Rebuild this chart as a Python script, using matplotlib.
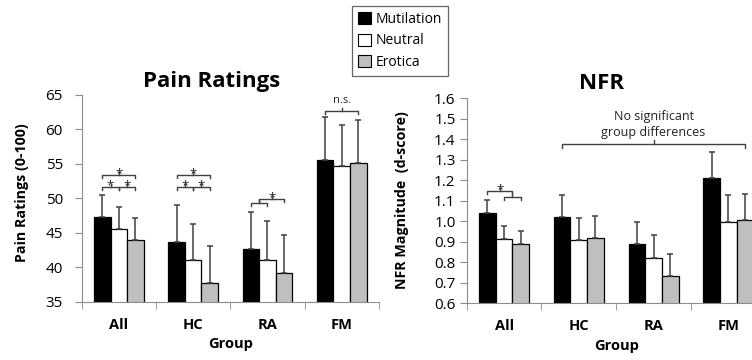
import numpy as np
import matplotlib.pyplot as plt
from matplotlib.patches import Patch
from matplotlib.ticker import FormatStrFormatter, FixedLocator

plt.rcParams['font.family'] = ['Open Sans', 'DejaVu Sans']

groups = ['All', 'HC', 'RA', 'FM']
conditions = ['Mutilation', 'Neutral', 'Erotica']
bar_colors = ['black', 'white', '#bfbfbf']

# pain ratings (0-100)
pain_mut = [47.3, 43.6, 42.6, 55.5]
pain_neu = [45.5, 41.0, 41.1, 54.6]
pain_ero = [44.0, 37.7, 39.1, 55.1]
pain_mut_err = [3.2, 5.4, 5.4, 6.2]
pain_neu_err = [3.2, 5.3, 5.6, 6.0]
pain_ero_err = [3.2, 5.4, 5.5, 6.2]

# NFR magnitude (d-score)
nfr_mut = [1.04, 1.02, 0.89, 1.21]
nfr_neu = [0.912, 0.91, 0.823, 0.998]
nfr_ero = [0.887, 0.919, 0.733, 1.005]
nfr_mut_err = [0.065, 0.106, 0.107, 0.128]
nfr_neu_err = [0.067, 0.106, 0.111, 0.128]
nfr_ero_err = [0.065, 0.105, 0.109, 0.127]

# significance brackets: (group, bar from, bar to, level, label)
pain_sig = [(0, 0, 1, 51.6, '*'), (0, 1, 2, 51.6, '*'), (0, 0, 2, 53.4, '*'),
            (1, 0, 1, 51.6, '*'), (1, 1, 2, 51.6, '*'), (1, 0, 2, 53.4, '*'),
            (2, 0, 1, 49.3, ''), (2, 0.5, 2, 49.9, '*'),
            (3, 0, 2, 62.7, 'n.s.')]
nfr_sig = [(0, 1, 2, 1.121, ''), (0, 0, 1.5, 1.148, '*')]

W = 0.223
LC = '#404040'
AX_C = '#8c8c8c'


def barx(g, k):
    return g + (k - 1) * W


def bracket(ax, x1, x2, y, tip, label=''):
    ax.plot([x1, x1, x2, x2], [y - tip, y, y, y - tip], color=LC, lw=1, zorder=4)
    xm = (x1 + x2) / 2
    ax.plot([xm, xm], [y, y + tip], color=LC, lw=1, zorder=4)
    if label == '*':
        ax.text(xm, y + tip * 0.3, label, ha='center', va='center', fontsize=9.5, color='#222222')
    elif label:
        ax.text(xm, y + tip * 1.5, label, ha='center', va='bottom', fontsize=8, color='#222222')


def draw_panel(ax, means, errs, ylim, step):
    x = np.arange(len(groups))
    for k, (m, e) in enumerate(zip(means, errs)):
        ax.bar(x + (k - 1) * W, m, W, bottom=0, color=bar_colors[k], edgecolor='black',
               lw=0.9, zorder=2)
        ax.errorbar(x + (k - 1) * W, m, yerr=[np.zeros(len(e)), e], fmt='none',
                    ecolor=LC, elinewidth=1.1, capsize=2.4, capthick=1.1, zorder=3)
    ax.set_xlim(-0.5, len(groups) - 0.5)
    ax.set_ylim(*ylim)
    ax.set_yticks(np.arange(ylim[0], ylim[1] + step / 2, step))
    ax.set_xticks(x)
    ax.set_xticklabels(groups, fontsize=10.5, fontweight='bold')
    ax.xaxis.set_minor_locator(FixedLocator(np.arange(-0.5, len(groups), 1.0)))
    ax.tick_params(axis='x', which='major', length=0, pad=12)
    ax.tick_params(axis='x', which='minor', length=5, color=AX_C, direction='out')
    ax.tick_params(axis='y', length=5, color=AX_C, labelsize=11)
    for s in ['top', 'right']:
        ax.spines[s].set_visible(False)
    for s in ['left', 'bottom']:
        ax.spines[s].set_color(AX_C)
    ax.set_xlabel('Group', fontsize=10.5, fontweight='bold')


fig = plt.figure(figsize=(7.52, 3.6), dpi=100)

ax1 = fig.add_axes([0.1086, 0.1619, 0.3953, 0.575])
draw_panel(ax1, [pain_mut, pain_neu, pain_ero], [pain_mut_err, pain_neu_err, pain_ero_err], (35, 65), 5)
ax1.tick_params(axis='y', pad=8.5)
ax1.set_ylabel('Pain Ratings (0-100)', fontsize=10.3, fontweight='bold')
ax1.yaxis.set_label_coords(-0.176, 0.527)
ax1.xaxis.set_label_coords(0.5, -0.171)
tip1 = 0.0145 * 30
for g, a, b, y, lab in pain_sig:
    bracket(ax1, barx(g, a), barx(g, b), y, tip1, lab)

ax2 = fig.add_axes([0.6206, 0.1575, 0.3976, 0.5694])
draw_panel(ax2, [nfr_mut, nfr_neu, nfr_ero], [nfr_mut_err, nfr_neu_err, nfr_ero_err], (0.6, 1.6), 0.1)
ax2.yaxis.set_major_formatter(FormatStrFormatter('%.1f'))
ax2.tick_params(axis='y', pad=3)
ax2.tick_params(axis='x', which='major', pad=11.5)
ax2.set_ylabel('NFR Magnitude  (d-score)', fontsize=10.3, fontweight='bold')
ax2.yaxis.set_label_coords(-0.194, 0.504)
ax2.xaxis.set_label_coords(0.5, -0.174)
tip2 = 0.0165 * 1.0
for g, a, b, y, lab in nfr_sig:
    bracket(ax2, barx(g, a), barx(g, b), y, tip2, lab)
bracket(ax2, barx(1, 0), barx(3, 2), 1.379, tip2 * 1.2)
ax2.text((barx(1, 0) + barx(3, 2)) / 2, 1.379 + tip2 * 1.25, 'No significant\ngroup differences',
         ha='center', va='bottom', fontsize=9, linespacing=1.3, color='#222222')

fig.text(212 / 752, 1 - 82 / 360, 'Pain Ratings', ha='center', va='center',
         fontsize=16, fontweight='bold')
fig.text(601.7 / 752, 1 - 83.3 / 360, 'NFR', ha='center', va='center',
         fontsize=16, fontweight='bold')

handles = [Patch(facecolor=c, edgecolor='black', lw=0.8) for c in bar_colors]
leg = fig.legend(handles, conditions, loc='upper left', bbox_to_anchor=(352 / 752, 1 - 6 / 360),
                 fontsize=10, frameon=True, fancybox=False, edgecolor='#404040',
                 borderaxespad=0, handlelength=0.95, handleheight=0.95, handletextpad=0.3,
                 labelspacing=0.45, borderpad=0.45)
leg.get_frame().set_linewidth(0.9)

fig.savefig('out.png', dpi=100)
